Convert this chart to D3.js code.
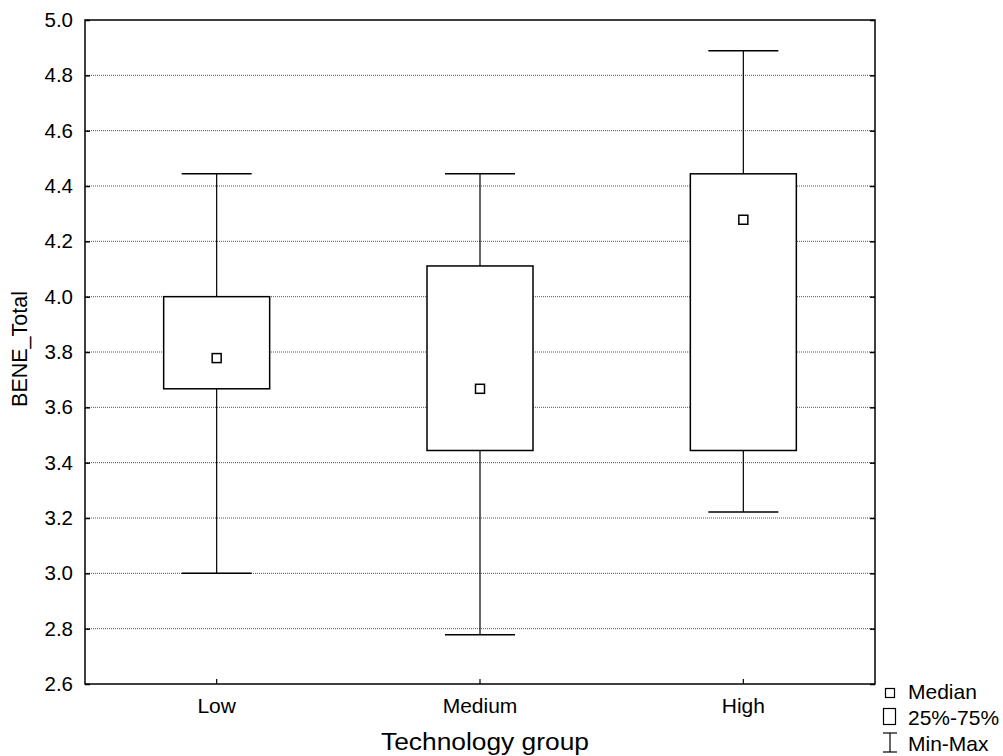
<!DOCTYPE html>
<html><head><meta charset="utf-8">
<script src="https://cdn.jsdelivr.net/npm/d3@7"></script>
<style>body{margin:0;background:#fff}svg{display:block;font-family:"Liberation Sans",Arial,sans-serif}</style>
</head><body><svg id="c" width="1003" height="756"></svg>
<script>
const categories = ["Low","Medium","High"];
const minVals = [3.0, 2.778, 3.222];
const q1Vals = [3.667, 3.444, 3.444];
const medianVals = [3.778, 3.667, 4.278];
const q3Vals = [4.0, 4.111, 4.444];
const maxVals = [4.444, 4.444, 4.889];
const yTicks = [2.6,2.8,3.0,3.2,3.4,3.6,3.8,4.0,4.2,4.4,4.6,4.8,5.0];

const FONT = "Liberation Sans, Arial, sans-serif";
const svg = d3.select("#c");
const L=85, R=875, T=20, B=684;
const x = d3.scaleBand().domain(categories).range([L,R]);
const y = d3.scaleLinear().domain([2.6,5.0]).range([B,T]);

// grid
svg.append("g").selectAll("line").data(yTicks.filter(v=>v>2.6&&v<5.0)).join("line")
  .attr("x1",L).attr("x2",R).attr("y1",d=>y(d)).attr("y2",d=>y(d))
  .attr("stroke","#555").attr("stroke-width",1).attr("stroke-dasharray","1,1");

// frame
svg.append("rect").attr("x",L).attr("y",T).attr("width",R-L).attr("height",B-T)
  .attr("fill","none").attr("stroke","#000").attr("stroke-width",1.5);

// left axis
const ya = svg.append("g").attr("transform",`translate(${L},0)`)
  .call(d3.axisLeft(y).tickValues(yTicks).tickFormat(d3.format(".1f")).tickSizeInner(-5).tickSizeOuter(0).tickPadding(12));
ya.select(".domain").remove();
ya.selectAll("line").attr("stroke","#000").attr("stroke-width",1.5);
ya.selectAll("text").attr("font-size",20.5).attr("fill","#000").attr("font-family",FONT).attr("x",-12);
// right ticks
const yr = svg.append("g").attr("transform",`translate(${R},0)`)
  .call(d3.axisRight(y).tickValues(yTicks).tickFormat("").tickSizeInner(-5).tickSizeOuter(0));
yr.select(".domain").remove();
yr.selectAll("line").attr("stroke","#000").attr("stroke-width",1.5);

// bottom axis
const xa = svg.append("g").attr("transform",`translate(0,${B})`)
  .call(d3.axisBottom(x).tickSizeInner(-5).tickSizeOuter(0));
xa.select(".domain").remove();
xa.selectAll("line").attr("stroke","#000").attr("stroke-width",1.2);
xa.selectAll("text").attr("font-size",21).attr("fill","#000").attr("font-family",FONT).attr("y",29).attr("dy",0);

// boxes
const boxW = 106, capW = 70, medS = 9;
const g = svg.append("g");
categories.forEach((c,i)=>{
  const cx = x(c)+x.bandwidth()/2;
  g.append("line").attr("x1",cx).attr("x2",cx).attr("y1",y(maxVals[i])).attr("y2",y(q3Vals[i])).attr("stroke","#000").attr("stroke-width",1.2);
  g.append("line").attr("x1",cx).attr("x2",cx).attr("y1",y(q1Vals[i])).attr("y2",y(minVals[i])).attr("stroke","#000").attr("stroke-width",1.2);
  g.append("line").attr("x1",cx-capW/2).attr("x2",cx+capW/2).attr("y1",y(maxVals[i])).attr("y2",y(maxVals[i])).attr("stroke","#000").attr("stroke-width",1.5);
  g.append("line").attr("x1",cx-capW/2).attr("x2",cx+capW/2).attr("y1",y(minVals[i])).attr("y2",y(minVals[i])).attr("stroke","#000").attr("stroke-width",1.5);
  g.append("rect").attr("x",cx-boxW/2).attr("y",y(q3Vals[i])).attr("width",boxW).attr("height",y(q1Vals[i])-y(q3Vals[i]))
    .attr("fill","#fff").attr("stroke","#000").attr("stroke-width",1.5);
  g.append("rect").attr("x",cx-medS/2).attr("y",y(medianVals[i])-medS/2).attr("width",medS).attr("height",medS)
    .attr("fill","#fff").attr("stroke","#000").attr("stroke-width",1.5);
});

// titles
svg.append("text").attr("x",485).attr("y",750).attr("text-anchor","middle").attr("font-size",23)
  .attr("textLength",208).attr("lengthAdjust","spacingAndGlyphs").text("Technology group");
svg.append("text").attr("transform","translate(27,349) rotate(-90)").attr("text-anchor","middle").attr("font-size",21.5).text("BENE_Total");

// legend
const lg = svg.append("g");
lg.append("rect").attr("x",885.5).attr("y",688.5).attr("width",9).attr("height",9).attr("fill","#fff").attr("stroke","#000").attr("stroke-width",1.2);
lg.append("text").attr("x",908).attr("y",699).attr("font-size",21).text("Median");
lg.append("rect").attr("x",883.5).attr("y",708.5).attr("width",12).attr("height",16).attr("fill","#fff").attr("stroke","#000").attr("stroke-width",1.2);
lg.append("text").attr("x",908).attr("y",725).attr("font-size",21).text("25%-75%");
lg.append("line").attr("x1",890).attr("x2",890).attr("y1",733).attr("y2",752).attr("stroke","#000").attr("stroke-width",1.2);
lg.append("line").attr("x1",883).attr("x2",897).attr("y1",733).attr("y2",733).attr("stroke","#000").attr("stroke-width",1.2);
lg.append("line").attr("x1",883).attr("x2",897).attr("y1",752).attr("y2",752).attr("stroke","#000").attr("stroke-width",1.2);
lg.append("text").attr("x",908).attr("y",751).attr("font-size",21).text("Min-Max");
</script></body></html>
